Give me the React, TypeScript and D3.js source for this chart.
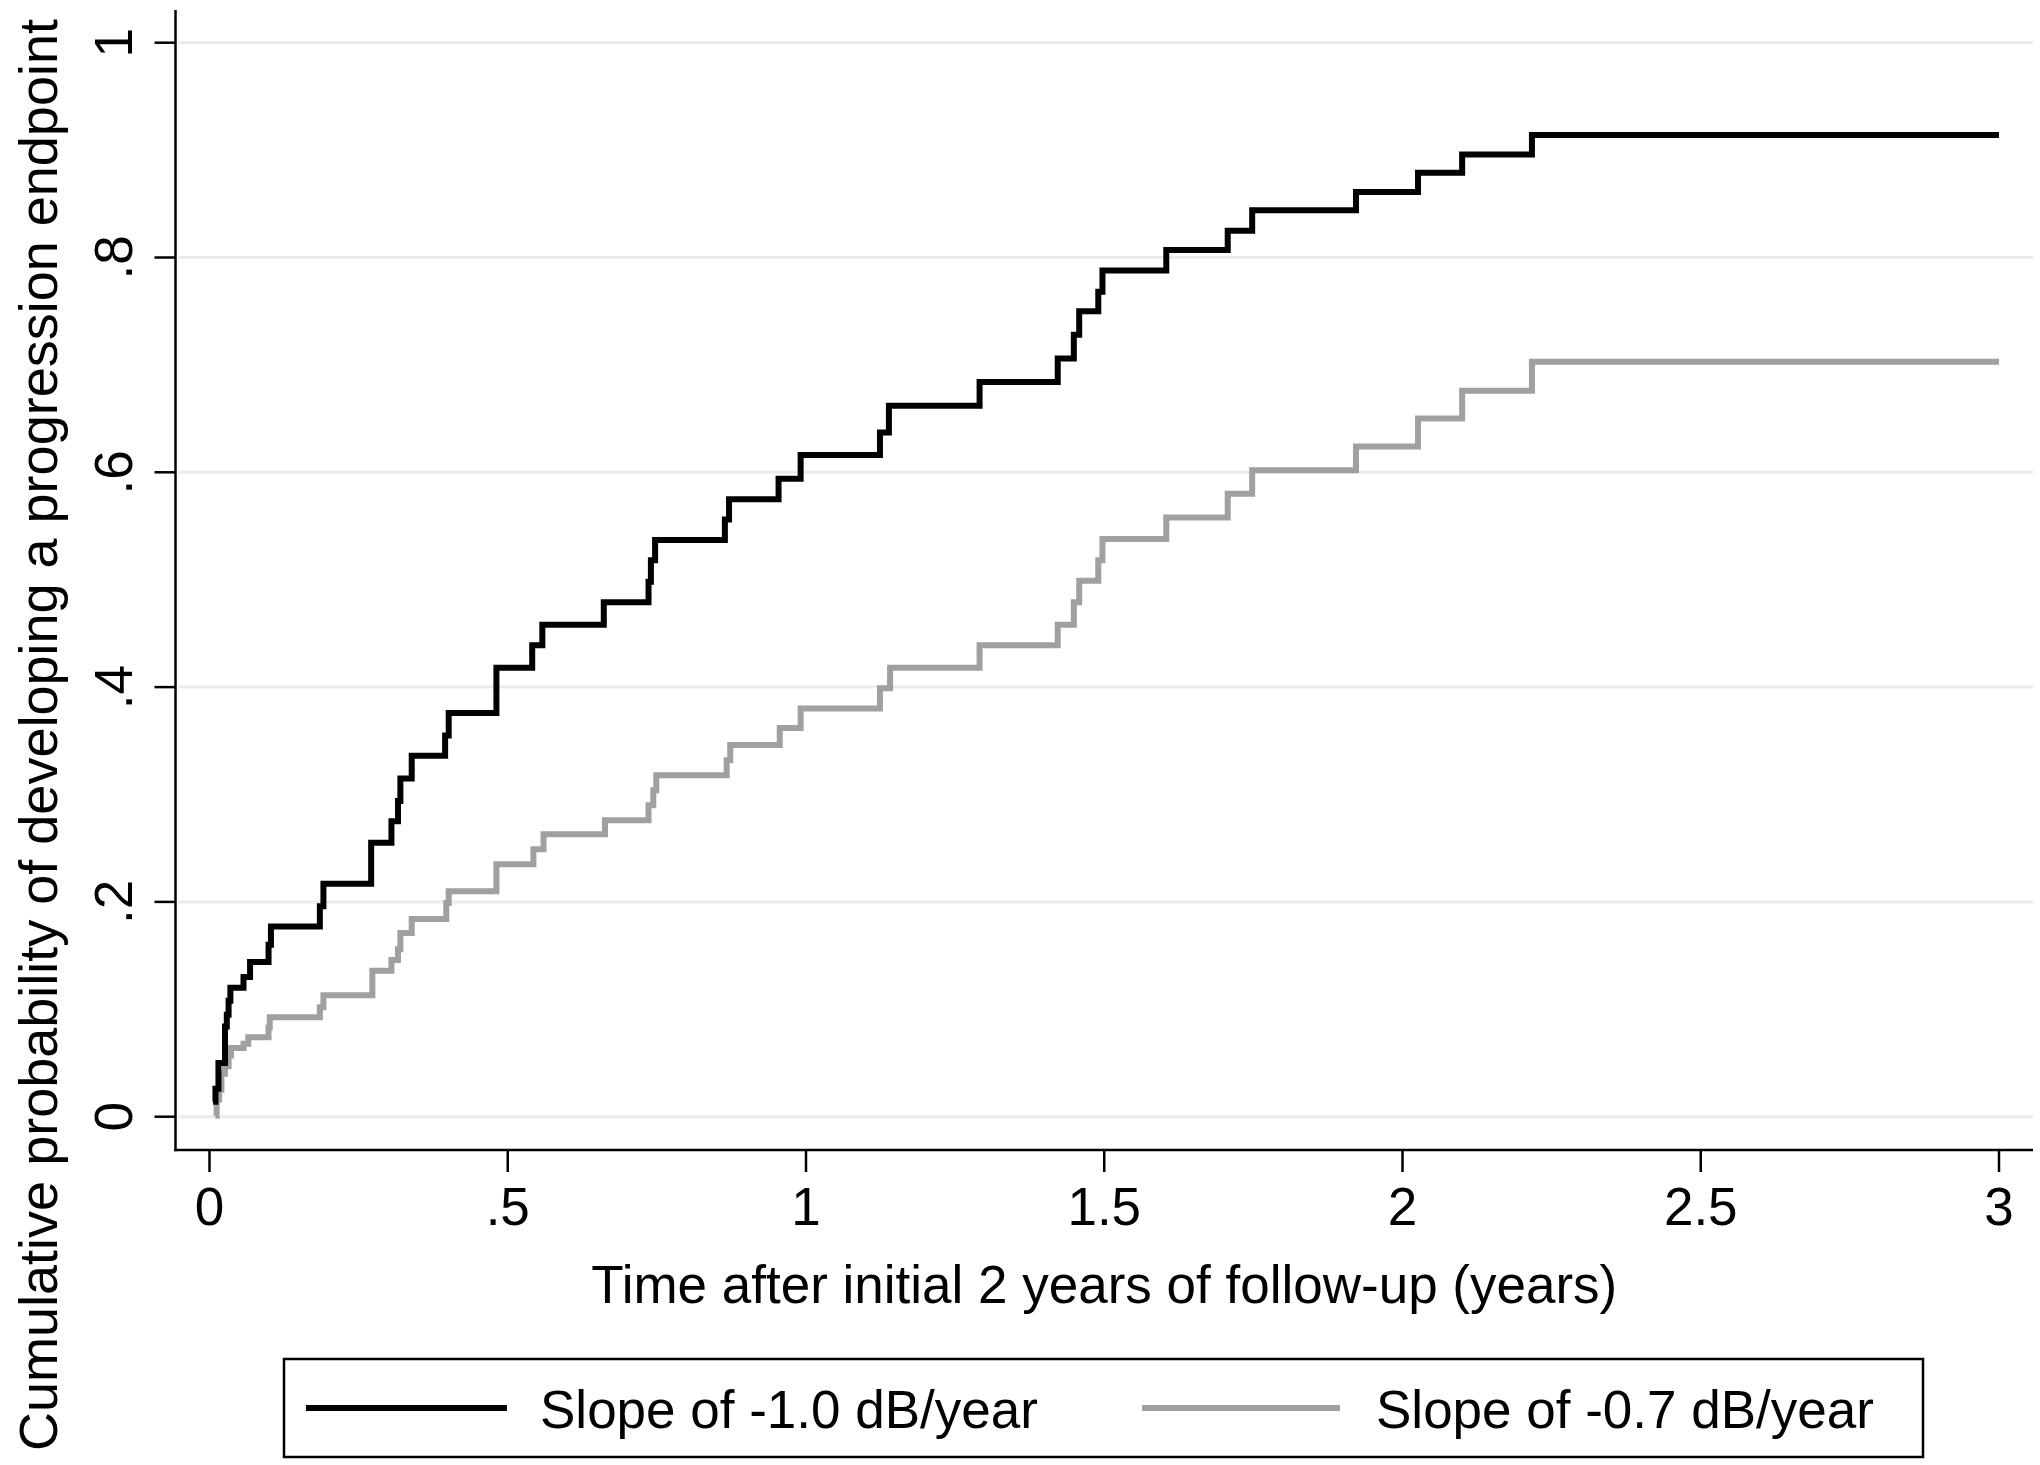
import React from "react";
import * as d3 from "d3";

const xTicks = [0, 0.5, 1, 1.5, 2, 2.5, 3];
const xTickLabels = ["0", ".5", "1", "1.5", "2", "2.5", "3"];
const yTicks = [0, 0.2, 0.4, 0.6, 0.8, 1];
const yTickLabels = ["0", ".2", ".4", ".6", ".8", "1"];

const slope10Times = [0.006, 0.010, 0.015, 0.026, 0.029, 0.032, 0.035, 0.057, 0.068, 0.099, 0.103, 0.185, 0.191, 0.271, 0.305, 0.316, 0.320, 0.339, 0.395, 0.401, 0.481, 0.541, 0.558, 0.661, 0.736, 0.740, 0.747, 0.864, 0.871, 0.954, 0.991, 1.124, 1.139, 1.291, 1.422, 1.449, 1.458, 1.490, 1.497, 1.604, 1.707, 1.748, 1.922, 2.026, 2.100, 2.217, 3.0];
const slope10Values = [0.014, 0.026, 0.050, 0.084, 0.095, 0.108, 0.120, 0.130, 0.144, 0.160, 0.177, 0.196, 0.217, 0.255, 0.275, 0.294, 0.315, 0.336, 0.355, 0.376, 0.418, 0.439, 0.458, 0.479, 0.498, 0.518, 0.537, 0.556, 0.575, 0.594, 0.616, 0.637, 0.662, 0.684, 0.706, 0.728, 0.750, 0.768, 0.788, 0.807, 0.825, 0.844, 0.861, 0.879, 0.896, 0.914, 0.914];

const slope07Times = [0.010, 0.012, 0.016, 0.020, 0.026, 0.032, 0.036, 0.057, 0.065, 0.099, 0.101, 0.185, 0.191, 0.273, 0.305, 0.316, 0.320, 0.339, 0.397, 0.401, 0.481, 0.543, 0.560, 0.663, 0.736, 0.744, 0.749, 0.867, 0.873, 0.956, 0.991, 1.124, 1.141, 1.291, 1.422, 1.449, 1.458, 1.490, 1.497, 1.604, 1.707, 1.748, 1.922, 2.026, 2.100, 2.217, 3.0];
const slope07Values = [0.001, 0.016, 0.025, 0.040, 0.047, 0.057, 0.064, 0.068, 0.074, 0.083, 0.0925, 0.102, 0.113, 0.136, 0.146, 0.156, 0.171, 0.184, 0.199, 0.210, 0.235, 0.249, 0.263, 0.276, 0.290, 0.304, 0.318, 0.332, 0.346, 0.362, 0.380, 0.399, 0.418, 0.439, 0.458, 0.479, 0.499, 0.518, 0.538, 0.558, 0.580, 0.602, 0.624, 0.650, 0.676, 0.703, 0.703];

const seriesNames = ["Slope of -1.0 dB/year", "Slope of -0.7 dB/year"];
const seriesColors = ["#000000", "#a0a0a0"];

const xAxisTitle = "Time after initial 2 years of follow-up (years)";
const yAxisTitle = "Cumulative probability of developing a progression endpoint";

const W = 2040;
const H = 1465;
const FONT = "'Liberation Sans', Arial, Helvetica, sans-serif";

export default function App() {
  const x = d3.scaleLinear().domain([0, 3]).range([209.5, 1999]);
  const y = d3.scaleLinear().domain([0, 1]).range([1116.7, 42.7]);
  const axisLeft = 175.5;
  const axisBottom = 1150;
  const plotRight = 2033;
  const plotTop = 10;

  const line = d3
    .line<[number, number]>()
    .x((d) => x(d[0]))
    .y((d) => y(d[1]))
    .curve(d3.curveStepAfter);

  const s1 = slope10Times.map((t, i) => [t, slope10Values[i]] as [number, number]);
  const s2 = slope07Times.map((t, i) => [t, slope07Values[i]] as [number, number]);

  const legendLeft = 284;
  const legendRight = 1923;
  const legendTop = 1359;
  const legendBottom = 1457;
  const legendY = 1408;

  return (
    <svg
      width={W}
      height={H}
      viewBox={`0 0 ${W} ${H}`}
      style={{ position: "absolute", left: 0, top: 0, display: "block", background: "#fff" }}
      fontFamily={FONT}
    >
      <rect x={0} y={0} width={W} height={H} fill="#ffffff" />
      {yTicks.map((t) => (
        <line key={"g" + t} x1={axisLeft + 3} x2={plotRight} y1={y(t)} y2={y(t)} stroke="#ebebeb" strokeWidth={3} />
      ))}
      <path d={line(s2) || ""} fill="none" stroke={seriesColors[1]} strokeWidth={6} strokeLinejoin="miter" />
      <path d={line(s1) || ""} fill="none" stroke={seriesColors[0]} strokeWidth={6} strokeLinejoin="miter" />
      <line x1={axisLeft} x2={axisLeft} y1={plotTop} y2={axisBottom + 1.25} stroke="#000" strokeWidth={2.5} />
      <line x1={axisLeft - 1.25} x2={plotRight} y1={axisBottom} y2={axisBottom} stroke="#000" strokeWidth={2.5} />
      {yTicks.map((t, i) => (
        <g key={"yt" + t}>
          <line x1={axisLeft - 21} x2={axisLeft} y1={y(t)} y2={y(t)} stroke="#000" strokeWidth={2.5} />
          <text
            transform={`translate(132, ${y(t)}) rotate(-90)`}
            textAnchor="middle"
            fontSize={53}
            fill="#000"
          >
            {yTickLabels[i]}
          </text>
        </g>
      ))}
      {xTicks.map((t, i) => (
        <g key={"xt" + t}>
          <line x1={x(t)} x2={x(t)} y1={axisBottom} y2={axisBottom + 22} stroke="#000" strokeWidth={2.5} />
          <text x={x(t)} y={1225} textAnchor="middle" fontSize={53} fill="#000">
            {xTickLabels[i]}
          </text>
        </g>
      ))}
      <text x={(axisLeft + plotRight) / 2} y={1303} textAnchor="middle" fontSize={53} fill="#000">
        {xAxisTitle}
      </text>
      <text transform={`translate(57, 735) rotate(-90)`} textAnchor="middle" fontSize={54} fill="#000">
        {yAxisTitle}
      </text>
      <rect
        x={legendLeft}
        y={legendTop}
        width={legendRight - legendLeft}
        height={legendBottom - legendTop}
        fill="#fff"
        stroke="#000"
        strokeWidth={2.5}
      />
      <line x1={306} x2={507} y1={legendY} y2={legendY} stroke={seriesColors[0]} strokeWidth={6} />
      <text x={540} y={1428} fontSize={53} fill="#000">
        {seriesNames[0]}
      </text>
      <line x1={1142} x2={1340} y1={legendY} y2={legendY} stroke={seriesColors[1]} strokeWidth={6} />
      <text x={1376} y={1428} fontSize={53} fill="#000">
        {seriesNames[1]}
      </text>
    </svg>
  );
}
